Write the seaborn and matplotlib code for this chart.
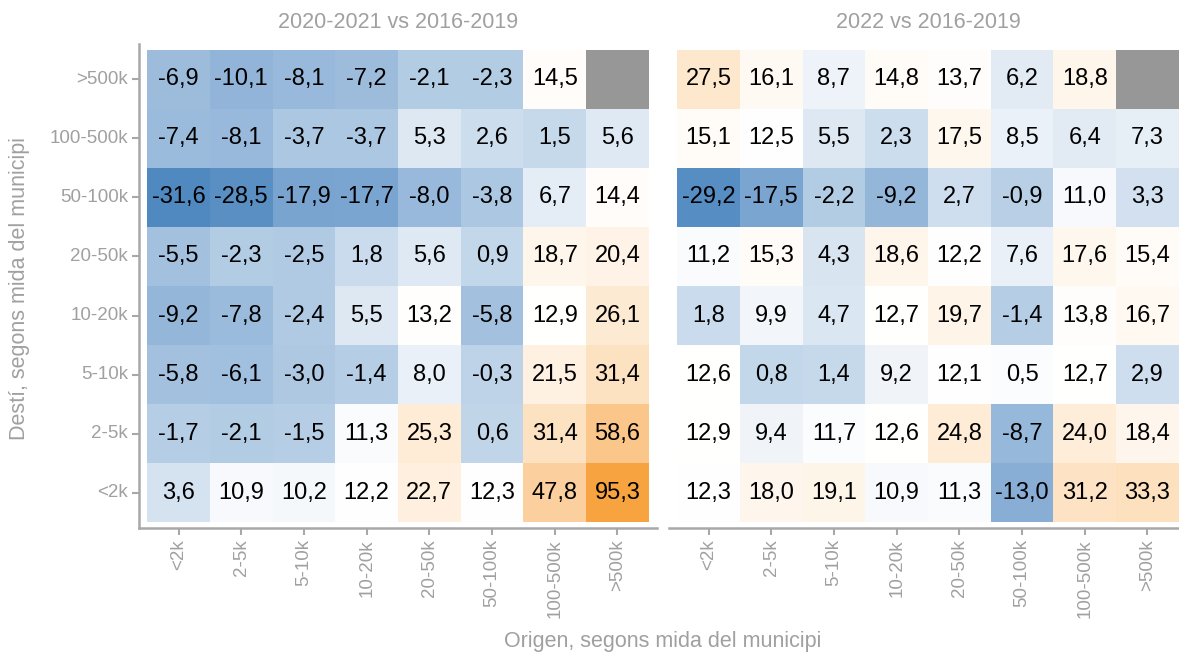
import numpy as np
import pandas as pd
import seaborn as sns
import matplotlib.pyplot as plt
from matplotlib.colors import LinearSegmentedColormap, ListedColormap

# municipality size classes
origen = ["<2k", "2-5k", "5-10k", "10-20k", "20-50k", "50-100k", "100-500k", ">500k"]
desti = [">500k", "100-500k", "50-100k", "20-50k", "10-20k", "5-10k", "2-5k", "<2k"]

# % change, rows = destí (top to bottom), cols = origen
v2021 = [
    [-6.9, -10.1, -8.1, -7.2, -2.1, -2.3, 14.5, np.nan],
    [-7.4, -8.1, -3.7, -3.7, 5.3, 2.6, 1.5, 5.6],
    [-31.6, -28.5, -17.9, -17.7, -8.0, -3.8, 6.7, 14.4],
    [-5.5, -2.3, -2.5, 1.8, 5.6, 0.9, 18.7, 20.4],
    [-9.2, -7.8, -2.4, 5.5, 13.2, -5.8, 12.9, 26.1],
    [-5.8, -6.1, -3.0, -1.4, 8.0, -0.3, 21.5, 31.4],
    [-1.7, -2.1, -1.5, 11.3, 25.3, 0.6, 31.4, 58.6],
    [3.6, 10.9, 10.2, 12.2, 22.7, 12.3, 47.8, 95.3],
]
v2022 = [
    [27.5, 16.1, 8.7, 14.8, 13.7, 6.2, 18.8, np.nan],
    [15.1, 12.5, 5.5, 2.3, 17.5, 8.5, 6.4, 7.3],
    [-29.2, -17.5, -2.2, -9.2, 2.7, -0.9, 11.0, 3.3],
    [11.2, 15.3, 4.3, 18.6, 12.2, 7.6, 17.6, 15.4],
    [1.8, 9.9, 4.7, 12.7, 19.7, -1.4, 13.8, 16.7],
    [12.6, 0.8, 1.4, 9.2, 12.1, 0.5, 12.7, 2.9],
    [12.9, 9.4, 11.7, 12.6, 24.8, -8.7, 24.0, 18.4],
    [12.3, 18.0, 19.1, 10.9, 11.3, -13.0, 31.2, 33.3],
]
# the one cell whose fill doesn't follow its label in the original
fill_fix_2022 = {("5-10k", "50-100k"): 12.0}

titles = ["2020-2021 vs 2016-2019", "2022 vs 2016-2019"]

df21 = pd.DataFrame(v2021, index=desti, columns=origen)
df22 = pd.DataFrame(v2022, index=desti, columns=origen)
fill21 = df21.copy()
fill22 = df22.copy()
for (r, c), v in fill_fix_2022.items():
    fill22.loc[r, c] = v

vmin = min(np.nanmin(df21.values), np.nanmin(df22.values))
vmax = max(np.nanmax(df21.values), np.nanmax(df22.values))

# colour ramp: blue - white (~12.5) - orange
nodes = [(-31.6, "#5089c0"), (-9.2, "#94b6d9"), (-2.1, "#b3cce4"), (5.0, "#dce7f2"),
         (12.5, "#ffffff"), (30.0, "#fde4c6"), (48.0, "#fcd09e"), (95.3, "#f7a440")]
cmap = LinearSegmentedColormap.from_list(
    "divr", [((v - vmin) / (vmax - vmin), c) for v, c in nodes])

grey = "#a0a0a0"
line = "#a8a8a8"
plt.rcParams['font.family'] = ['Liberation Sans', 'DejaVu Sans']

fig = plt.figure(figsize=(11.79, 6.52), dpi=100)
W, H = 1179, 652
ax1 = fig.add_axes([139 / W, 1 - 528 / H, 518 / W, 484 / H])
ax2 = fig.add_axes([669 / W, 1 - 528 / H, 518 / W, 484 / H])


def fmt(df):
    return df.map(lambda v: "" if pd.isna(v) else f"{v:.1f}".replace(".", ","))


for ax, df, fill, title in [(ax1, df21, fill21, titles[0]), (ax2, df22, fill22, titles[1])]:
    sns.heatmap(fill, ax=ax, cmap=cmap, vmin=vmin, vmax=vmax, cbar=False,
                annot=fmt(df).values, fmt="",
                annot_kws={"color": "black", "fontsize": 17})
    na = df.isna()
    sns.heatmap(na.astype(float), mask=~na, ax=ax, cmap=ListedColormap(["#979797"]),
                cbar=False)
    ax.set_xlim(-0.13, 8.13)
    ax.set_ylim(8.1, -0.1)
    ax.set_xlabel("")
    ax.set_ylabel("")
    ax.set_xticks(np.arange(8) + 0.5)
    ax.set_xticklabels(origen, rotation=90, va="top")
    ax.set_yticks(np.arange(8) + 0.5)
    ax.set_yticklabels(desti, rotation=0)
    for s in ax.spines.values():
        s.set_visible(False)
    ax.spines["bottom"].set_visible(True)
    ax.spines["bottom"].set_color(line)
    ax.spines["bottom"].set_linewidth(1.8)
    ax.tick_params(axis="both", length=5, width=1.5, color=line, labelcolor=grey,
                   labelsize=13.5, pad=3)
    bb = ax.get_position()
    fig.text((bb.x0 + bb.x1) / 2, 1 - 22 / H, title, ha="center", va="center",
             color=grey, fontsize=15.5)

ax1.spines["left"].set_visible(True)
ax1.spines["left"].set_color(line)
ax1.spines["left"].set_linewidth(1.8)
ax2.tick_params(axis="y", left=False, labelleft=False)

fig.text(663 / W, 1 - 641 / H, "Origen, segons mida del municipi", ha="center",
         va="center", color=grey, fontsize=15.5)
fig.text(20 / W, 1 - 288 / H, "Destí, segons mida del municipi", ha="center",
         va="center", rotation=90, color=grey, fontsize=15.5)

fig.savefig("out.png", dpi=100)
